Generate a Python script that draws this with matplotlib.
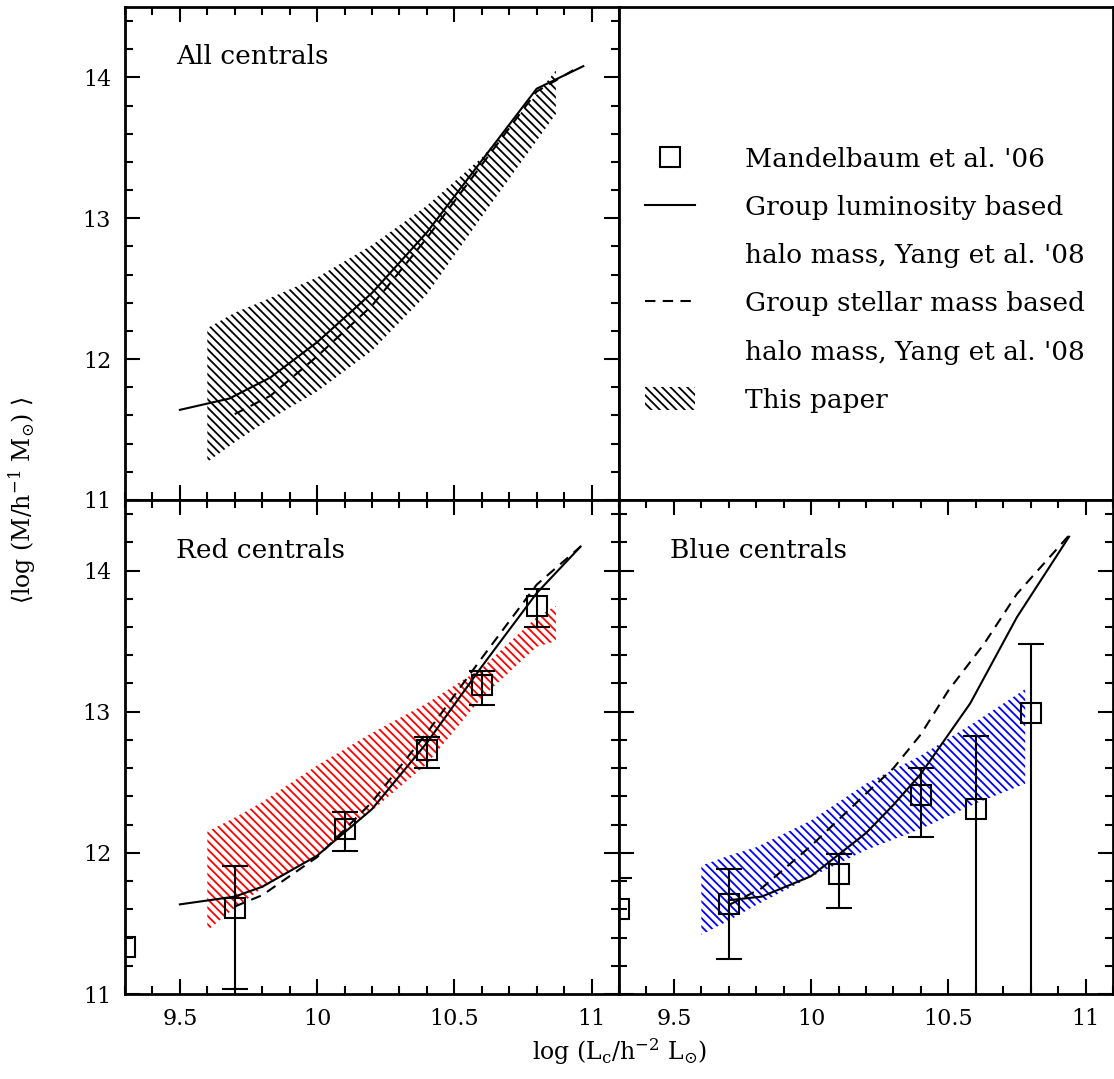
import numpy as np
import matplotlib
matplotlib.use('Agg')
import matplotlib.pyplot as plt
from matplotlib.lines import Line2D
from matplotlib.patches import Patch
from matplotlib.ticker import MultipleLocator

plt.rcParams['font.family'] = 'DejaVu Serif'
plt.rcParams['mathtext.fontset'] = 'dejavuserif'
plt.rcParams['hatch.linewidth'] = 1.3

HATCH = '\\' * 4

# --- all centrals ---
all_lum_x = [9.50, 9.68, 9.83, 10.0, 10.2, 10.4, 10.6, 10.8, 10.97]
all_lum_y = [11.64, 11.72, 11.87, 12.12, 12.47, 12.90, 13.41, 13.92, 14.08]
all_stel_x = [9.70, 9.83, 10.0, 10.2, 10.4, 10.6, 10.8, 10.95]
all_stel_y = [11.61, 11.74, 12.02, 12.38, 12.86, 13.38, 13.90, 14.07]
all_band_x = [9.6, 9.7, 9.8, 10.0, 10.2, 10.4, 10.6, 10.8, 10.87]
all_band_lo = [11.27, 11.41, 11.54, 11.77, 12.06, 12.46, 13.01, 13.55, 13.74]
all_band_hi = [12.22, 12.33, 12.41, 12.58, 12.81, 13.09, 13.43, 13.88, 14.05]

# --- red centrals ---
red_lum_x = [9.50, 9.70, 9.80, 10.0, 10.2, 10.4, 10.6, 10.8, 10.96]
red_lum_y = [11.635, 11.69, 11.76, 11.98, 12.31, 12.78, 13.32, 13.84, 14.17]
red_stel_x = [9.70, 9.80, 10.0, 10.2, 10.4, 10.6, 10.8, 10.96]
red_stel_y = [11.62, 11.70, 11.97, 12.36, 12.85, 13.38, 13.90, 14.17]
red_band_x = [9.6, 9.7, 9.8, 10.0, 10.2, 10.4, 10.6, 10.8, 10.87]
red_band_lo = [11.45, 11.61, 11.75, 11.98, 12.30, 12.63, 13.10, 13.46, 13.50]
red_band_hi = [12.15, 12.25, 12.36, 12.62, 12.85, 13.06, 13.31, 13.67, 13.75]
red_x = [9.30, 9.70, 10.1, 10.4, 10.6, 10.8]
red_y = [11.335, 11.61, 12.17, 12.73, 13.19, 13.75]
red_lo = [np.nan, 11.035, 12.01, 12.60, 13.05, 13.60]
red_hi = [np.nan, 11.91, 12.29, 12.82, 13.29, 13.87]

# --- blue centrals ---
blue_lum_x = [9.70, 9.82, 10.0, 10.2, 10.3, 10.4, 10.58, 10.75, 10.94]
blue_lum_y = [11.665, 11.69, 11.835, 12.14, 12.34, 12.56, 13.06, 13.67, 14.24]
blue_stel_x = [9.70, 9.82, 10.0, 10.2, 10.3, 10.4, 10.5, 10.63, 10.75, 10.94]
blue_stel_y = [11.63, 11.75, 12.05, 12.42, 12.60, 12.84, 13.15, 13.48, 13.835, 14.25]
blue_band_x = [9.6, 9.7, 9.8, 10.0, 10.2, 10.4, 10.6, 10.78]
blue_band_lo = [11.42, 11.52, 11.63, 11.83, 12.02, 12.17, 12.35, 12.49]
blue_band_hi = [11.91, 11.98, 12.04, 12.23, 12.49, 12.69, 12.93, 13.16]
blue_x = [9.30, 9.70, 10.1, 10.4, 10.6, 10.8]
blue_y = [11.60, 11.64, 11.85, 12.41, 12.31, 12.99]
blue_lo = [10.9, 11.245, 11.61, 12.11, 10.5, 10.5]
blue_hi = [11.82, 11.885, 11.99, 12.60, 12.83, 13.48]

W, H = 1114, 1079
fig = plt.figure(figsize=(W / 100, H / 100), dpi=100)
ax_all = fig.add_axes([125 / W, 1 - 500 / H, 494 / W, 493 / H])
ax_leg = fig.add_axes([619 / W, 1 - 500 / H, 494 / W, 493 / H])
ax_red = fig.add_axes([125 / W, 1 - 994 / H, 494 / W, 494 / H])
ax_blue = fig.add_axes([619 / W, 1 - 994 / H, 494 / W, 494 / H])

LW = 1.5
DASH = (5, 3.5)


def style(ax, xlab, ylab):
    ax.set_xlim(9.3, 11.1)
    ax.set_ylim(11, 14.5)
    ax.xaxis.set_major_locator(MultipleLocator(0.5))
    ax.xaxis.set_minor_locator(MultipleLocator(0.1))
    ax.yaxis.set_major_locator(MultipleLocator(1))
    ax.yaxis.set_minor_locator(MultipleLocator(0.2))
    ax.tick_params(which='both', direction='in', top=True, right=True, width=1.5,
                   labelbottom=xlab, labelleft=ylab, labelsize=16)
    ax.tick_params(which='major', length=11, pad=10)
    ax.tick_params(which='minor', length=6)
    ax.set_xticks([9.5, 10, 10.5, 11])
    ax.set_xticklabels(['9.5', '10', '10.5', '11'])
    ax.set_yticks([11, 12, 13, 14])
    for s in ax.spines.values():
        s.set_linewidth(2)


def band(ax, x, lo, hi, color):
    ax.fill_between(x, lo, hi, facecolor='none', edgecolor=color,
                    hatch=HATCH, linewidth=0)


def points(ax, x, y, lo, hi):
    x, y, lo, hi = map(np.asarray, (x, y, lo, hi))
    ok = np.isfinite(lo)
    ax.errorbar(x[ok], y[ok], yerr=[y[ok] - lo[ok], hi[ok] - y[ok]], fmt='none',
                ecolor='k', elinewidth=LW, capsize=9.5, capthick=LW)
    ax.plot(x, y, 's', ms=14, mfc='none', mec='k', mew=1.5)


# all centrals
style(ax_all, False, True)
band(ax_all, all_band_x, all_band_lo, all_band_hi, 'k')
ax_all.plot(all_lum_x, all_lum_y, 'k-', lw=LW)
ax_all.plot(all_stel_x, all_stel_y, 'k--', lw=LW, dashes=DASH)
ax_all.text(0.103, 0.899, 'All centrals', transform=ax_all.transAxes,
            fontsize=19, va='center')

# red centrals
style(ax_red, True, True)
band(ax_red, red_band_x, red_band_lo, red_band_hi, 'red')
ax_red.plot(red_lum_x, red_lum_y, 'k-', lw=LW)
ax_red.plot(red_stel_x, red_stel_y, 'k--', lw=LW, dashes=DASH)
points(ax_red, red_x, red_y, red_lo, red_hi)
ax_red.text(0.103, 0.897, 'Red centrals', transform=ax_red.transAxes,
            fontsize=19, va='center')

# blue centrals
style(ax_blue, True, False)
band(ax_blue, blue_band_x, blue_band_lo, blue_band_hi, 'blue')
ax_blue.plot(blue_lum_x, blue_lum_y, 'k-', lw=LW)
ax_blue.plot(blue_stel_x, blue_stel_y, 'k--', lw=LW, dashes=DASH)
points(ax_blue, blue_x, blue_y, blue_lo, blue_hi)
ax_blue.text(0.103, 0.897, 'Blue centrals', transform=ax_blue.transAxes,
             fontsize=19, va='center')

# legend panel
ax_leg.set_xticks([])
ax_leg.set_yticks([])
for s in ax_leg.spines.values():
    s.set_linewidth(2)
blank = Line2D([], [], ls='none')
handles = [
    Line2D([], [], marker='s', ms=14, mfc='none', mec='k', mew=1.5, ls='none'),
    Line2D([], [], color='k', lw=LW),
    blank,
    Line2D([], [], color='k', lw=LW, ls='--', dashes=DASH),
    blank,
    Patch(facecolor='none', edgecolor='k', hatch=HATCH, linewidth=0),
]
labels = ['Mandelbaum et al. \'06', 'Group luminosity based',
          'halo mass, Yang et al. \'08', 'Group stellar mass based',
          'halo mass, Yang et al. \'08', 'This paper']
ax_leg.legend(handles, labels, loc='upper left', bbox_to_anchor=(0.005, 0.765),
              frameon=False, fontsize=19, handlelength=1.9, handleheight=1.0,
              handletextpad=1.9, labelspacing=0.84)

fig.text(620 / W, 1 - 1052 / H, r'log (L$_{\rm c}$/h$^{-2}$ L$_{\odot}$)',
         ha='center', va='center', fontsize=17)
fig.text(22 / W, 1 - 500 / H, r'$\langle$log (M/h$^{-1}$ M$_{\odot}$) $\rangle$',
         ha='center', va='center', rotation=90, fontsize=17)

fig.savefig('out.png', dpi=100)
